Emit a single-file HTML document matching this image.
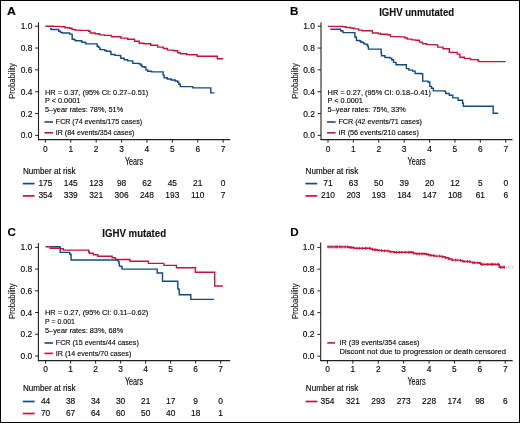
<!DOCTYPE html>
<html><head><meta charset="utf-8"><style>
html,body{margin:0;padding:0;background:#fff;}
svg{display:block;will-change:transform;}
text{font-family:"Liberation Sans", sans-serif;stroke:#231f20;stroke-width:0.15px;}
</style></head><body>
<svg width="520" height="423" viewBox="0 0 520 423" font-family='"Liberation Sans", sans-serif'>
<rect x="0" y="0" width="520" height="423" fill="#fff"/>
<text x="7.10" y="14.90" font-size="11.6" font-weight="bold" textLength="8.9" lengthAdjust="spacingAndGlyphs" fill="#000">A</text>
<line x1="38.50" y1="22.20" x2="38.50" y2="140.10" stroke="#231f20" stroke-width="1.1"/>
<line x1="38.00" y1="139.60" x2="230.20" y2="139.60" stroke="#231f20" stroke-width="1.1"/>
<line x1="35.20" y1="135.40" x2="38.50" y2="135.40" stroke="#231f20" stroke-width="1"/>
<text x="32.30" y="138.35" font-size="8.4" text-anchor="end">0.0</text>
<line x1="35.20" y1="113.56" x2="38.50" y2="113.56" stroke="#231f20" stroke-width="1"/>
<text x="32.30" y="116.51" font-size="8.4" text-anchor="end">0.2</text>
<line x1="35.20" y1="91.72" x2="38.50" y2="91.72" stroke="#231f20" stroke-width="1"/>
<text x="32.30" y="94.67" font-size="8.4" text-anchor="end">0.4</text>
<line x1="35.20" y1="69.88" x2="38.50" y2="69.88" stroke="#231f20" stroke-width="1"/>
<text x="32.30" y="72.83" font-size="8.4" text-anchor="end">0.6</text>
<line x1="35.20" y1="48.04" x2="38.50" y2="48.04" stroke="#231f20" stroke-width="1"/>
<text x="32.30" y="50.99" font-size="8.4" text-anchor="end">0.8</text>
<line x1="35.20" y1="26.20" x2="38.50" y2="26.20" stroke="#231f20" stroke-width="1"/>
<text x="32.30" y="29.15" font-size="8.4" text-anchor="end">1.0</text>
<line x1="45.40" y1="139.60" x2="45.40" y2="142.60" stroke="#231f20" stroke-width="1"/>
<text x="45.40" y="151.60" font-size="8.4" text-anchor="middle">0</text>
<line x1="70.79" y1="139.60" x2="70.79" y2="142.60" stroke="#231f20" stroke-width="1"/>
<text x="70.79" y="151.60" font-size="8.4" text-anchor="middle">1</text>
<line x1="96.18" y1="139.60" x2="96.18" y2="142.60" stroke="#231f20" stroke-width="1"/>
<text x="96.18" y="151.60" font-size="8.4" text-anchor="middle">2</text>
<line x1="121.57" y1="139.60" x2="121.57" y2="142.60" stroke="#231f20" stroke-width="1"/>
<text x="121.57" y="151.60" font-size="8.4" text-anchor="middle">3</text>
<line x1="146.96" y1="139.60" x2="146.96" y2="142.60" stroke="#231f20" stroke-width="1"/>
<text x="146.96" y="151.60" font-size="8.4" text-anchor="middle">4</text>
<line x1="172.35" y1="139.60" x2="172.35" y2="142.60" stroke="#231f20" stroke-width="1"/>
<text x="172.35" y="151.60" font-size="8.4" text-anchor="middle">5</text>
<line x1="197.74" y1="139.60" x2="197.74" y2="142.60" stroke="#231f20" stroke-width="1"/>
<text x="197.74" y="151.60" font-size="8.4" text-anchor="middle">6</text>
<line x1="223.13" y1="139.60" x2="223.13" y2="142.60" stroke="#231f20" stroke-width="1"/>
<text x="223.13" y="151.60" font-size="8.4" text-anchor="middle">7</text>
<text x="134.00" y="165.00" font-size="10" text-anchor="middle" textLength="18.2" lengthAdjust="spacingAndGlyphs">Years</text>
<text x="0" y="0" font-size="9.4" textLength="35.6" lengthAdjust="spacingAndGlyphs" fill="#231f20" transform="translate(14.90,98.80) rotate(-90)">Probability</text>
<text x="290.10" y="14.90" font-size="11.6" font-weight="bold" fill="#000">B</text>
<text x="416.70" y="15.90" font-size="10.5" text-anchor="middle" font-weight="bold" textLength="75" lengthAdjust="spacingAndGlyphs" fill="#111">IGHV unmutated</text>
<line x1="321.00" y1="22.20" x2="321.00" y2="140.10" stroke="#231f20" stroke-width="1.1"/>
<line x1="320.50" y1="139.60" x2="512.50" y2="139.60" stroke="#231f20" stroke-width="1.1"/>
<line x1="317.70" y1="135.40" x2="321.00" y2="135.40" stroke="#231f20" stroke-width="1"/>
<text x="314.80" y="138.35" font-size="8.4" text-anchor="end">0.0</text>
<line x1="317.70" y1="113.56" x2="321.00" y2="113.56" stroke="#231f20" stroke-width="1"/>
<text x="314.80" y="116.51" font-size="8.4" text-anchor="end">0.2</text>
<line x1="317.70" y1="91.72" x2="321.00" y2="91.72" stroke="#231f20" stroke-width="1"/>
<text x="314.80" y="94.67" font-size="8.4" text-anchor="end">0.4</text>
<line x1="317.70" y1="69.88" x2="321.00" y2="69.88" stroke="#231f20" stroke-width="1"/>
<text x="314.80" y="72.83" font-size="8.4" text-anchor="end">0.6</text>
<line x1="317.70" y1="48.04" x2="321.00" y2="48.04" stroke="#231f20" stroke-width="1"/>
<text x="314.80" y="50.99" font-size="8.4" text-anchor="end">0.8</text>
<line x1="317.70" y1="26.20" x2="321.00" y2="26.20" stroke="#231f20" stroke-width="1"/>
<text x="314.80" y="29.15" font-size="8.4" text-anchor="end">1.0</text>
<line x1="328.00" y1="139.60" x2="328.00" y2="142.60" stroke="#231f20" stroke-width="1"/>
<text x="328.00" y="151.60" font-size="8.4" text-anchor="middle">0</text>
<line x1="353.39" y1="139.60" x2="353.39" y2="142.60" stroke="#231f20" stroke-width="1"/>
<text x="353.39" y="151.60" font-size="8.4" text-anchor="middle">1</text>
<line x1="378.78" y1="139.60" x2="378.78" y2="142.60" stroke="#231f20" stroke-width="1"/>
<text x="378.78" y="151.60" font-size="8.4" text-anchor="middle">2</text>
<line x1="404.17" y1="139.60" x2="404.17" y2="142.60" stroke="#231f20" stroke-width="1"/>
<text x="404.17" y="151.60" font-size="8.4" text-anchor="middle">3</text>
<line x1="429.56" y1="139.60" x2="429.56" y2="142.60" stroke="#231f20" stroke-width="1"/>
<text x="429.56" y="151.60" font-size="8.4" text-anchor="middle">4</text>
<line x1="454.95" y1="139.60" x2="454.95" y2="142.60" stroke="#231f20" stroke-width="1"/>
<text x="454.95" y="151.60" font-size="8.4" text-anchor="middle">5</text>
<line x1="480.34" y1="139.60" x2="480.34" y2="142.60" stroke="#231f20" stroke-width="1"/>
<text x="480.34" y="151.60" font-size="8.4" text-anchor="middle">6</text>
<line x1="505.73" y1="139.60" x2="505.73" y2="142.60" stroke="#231f20" stroke-width="1"/>
<text x="505.73" y="151.60" font-size="8.4" text-anchor="middle">7</text>
<text x="416.60" y="165.00" font-size="10" text-anchor="middle" textLength="18.2" lengthAdjust="spacingAndGlyphs">Years</text>
<text x="0" y="0" font-size="9.4" textLength="35.6" lengthAdjust="spacingAndGlyphs" fill="#231f20" transform="translate(297.50,98.80) rotate(-90)">Probability</text>
<text x="7.40" y="236.00" font-size="11.6" font-weight="bold" fill="#000">C</text>
<text x="134.20" y="236.80" font-size="10.5" text-anchor="middle" font-weight="bold" textLength="63.8" lengthAdjust="spacingAndGlyphs" fill="#111">IGHV mutated</text>
<line x1="38.40" y1="243.00" x2="38.40" y2="361.10" stroke="#231f20" stroke-width="1.1"/>
<line x1="37.90" y1="360.60" x2="230.20" y2="360.60" stroke="#231f20" stroke-width="1.1"/>
<line x1="35.10" y1="356.00" x2="38.40" y2="356.00" stroke="#231f20" stroke-width="1"/>
<text x="32.20" y="358.95" font-size="8.4" text-anchor="end">0.0</text>
<line x1="35.10" y1="334.28" x2="38.40" y2="334.28" stroke="#231f20" stroke-width="1"/>
<text x="32.20" y="337.23" font-size="8.4" text-anchor="end">0.2</text>
<line x1="35.10" y1="312.56" x2="38.40" y2="312.56" stroke="#231f20" stroke-width="1"/>
<text x="32.20" y="315.51" font-size="8.4" text-anchor="end">0.4</text>
<line x1="35.10" y1="290.84" x2="38.40" y2="290.84" stroke="#231f20" stroke-width="1"/>
<text x="32.20" y="293.79" font-size="8.4" text-anchor="end">0.6</text>
<line x1="35.10" y1="269.12" x2="38.40" y2="269.12" stroke="#231f20" stroke-width="1"/>
<text x="32.20" y="272.07" font-size="8.4" text-anchor="end">0.8</text>
<line x1="35.10" y1="247.40" x2="38.40" y2="247.40" stroke="#231f20" stroke-width="1"/>
<text x="32.20" y="250.35" font-size="8.4" text-anchor="end">1.0</text>
<line x1="45.60" y1="360.60" x2="45.60" y2="363.60" stroke="#231f20" stroke-width="1"/>
<text x="45.60" y="372.40" font-size="8.4" text-anchor="middle">0</text>
<line x1="70.61" y1="360.60" x2="70.61" y2="363.60" stroke="#231f20" stroke-width="1"/>
<text x="70.61" y="372.40" font-size="8.4" text-anchor="middle">1</text>
<line x1="95.62" y1="360.60" x2="95.62" y2="363.60" stroke="#231f20" stroke-width="1"/>
<text x="95.62" y="372.40" font-size="8.4" text-anchor="middle">2</text>
<line x1="120.63" y1="360.60" x2="120.63" y2="363.60" stroke="#231f20" stroke-width="1"/>
<text x="120.63" y="372.40" font-size="8.4" text-anchor="middle">3</text>
<line x1="145.64" y1="360.60" x2="145.64" y2="363.60" stroke="#231f20" stroke-width="1"/>
<text x="145.64" y="372.40" font-size="8.4" text-anchor="middle">4</text>
<line x1="170.65" y1="360.60" x2="170.65" y2="363.60" stroke="#231f20" stroke-width="1"/>
<text x="170.65" y="372.40" font-size="8.4" text-anchor="middle">5</text>
<line x1="195.66" y1="360.60" x2="195.66" y2="363.60" stroke="#231f20" stroke-width="1"/>
<text x="195.66" y="372.40" font-size="8.4" text-anchor="middle">6</text>
<line x1="220.67" y1="360.60" x2="220.67" y2="363.60" stroke="#231f20" stroke-width="1"/>
<text x="220.67" y="372.40" font-size="8.4" text-anchor="middle">7</text>
<text x="134.00" y="385.10" font-size="10" text-anchor="middle" textLength="18.2" lengthAdjust="spacingAndGlyphs">Years</text>
<text x="0" y="0" font-size="9.4" textLength="35.6" lengthAdjust="spacingAndGlyphs" fill="#231f20" transform="translate(14.90,319.10) rotate(-90)">Probability</text>
<text x="290.30" y="236.00" font-size="11.6" font-weight="bold" fill="#000">D</text>
<line x1="320.70" y1="242.40" x2="320.70" y2="361.10" stroke="#231f20" stroke-width="1.1"/>
<line x1="320.20" y1="360.60" x2="512.60" y2="360.60" stroke="#231f20" stroke-width="1.1"/>
<line x1="317.40" y1="356.20" x2="320.70" y2="356.20" stroke="#231f20" stroke-width="1"/>
<text x="314.50" y="359.15" font-size="8.4" text-anchor="end">0.0</text>
<line x1="317.40" y1="334.44" x2="320.70" y2="334.44" stroke="#231f20" stroke-width="1"/>
<text x="314.50" y="337.39" font-size="8.4" text-anchor="end">0.2</text>
<line x1="317.40" y1="312.68" x2="320.70" y2="312.68" stroke="#231f20" stroke-width="1"/>
<text x="314.50" y="315.63" font-size="8.4" text-anchor="end">0.4</text>
<line x1="317.40" y1="290.92" x2="320.70" y2="290.92" stroke="#231f20" stroke-width="1"/>
<text x="314.50" y="293.87" font-size="8.4" text-anchor="end">0.6</text>
<line x1="317.40" y1="269.16" x2="320.70" y2="269.16" stroke="#231f20" stroke-width="1"/>
<text x="314.50" y="272.11" font-size="8.4" text-anchor="end">0.8</text>
<line x1="317.40" y1="247.40" x2="320.70" y2="247.40" stroke="#231f20" stroke-width="1"/>
<text x="314.50" y="250.35" font-size="8.4" text-anchor="end">1.0</text>
<line x1="327.50" y1="360.60" x2="327.50" y2="363.60" stroke="#231f20" stroke-width="1"/>
<text x="327.50" y="372.40" font-size="8.4" text-anchor="middle">0</text>
<line x1="352.89" y1="360.60" x2="352.89" y2="363.60" stroke="#231f20" stroke-width="1"/>
<text x="352.89" y="372.40" font-size="8.4" text-anchor="middle">1</text>
<line x1="378.28" y1="360.60" x2="378.28" y2="363.60" stroke="#231f20" stroke-width="1"/>
<text x="378.28" y="372.40" font-size="8.4" text-anchor="middle">2</text>
<line x1="403.67" y1="360.60" x2="403.67" y2="363.60" stroke="#231f20" stroke-width="1"/>
<text x="403.67" y="372.40" font-size="8.4" text-anchor="middle">3</text>
<line x1="429.06" y1="360.60" x2="429.06" y2="363.60" stroke="#231f20" stroke-width="1"/>
<text x="429.06" y="372.40" font-size="8.4" text-anchor="middle">4</text>
<line x1="454.45" y1="360.60" x2="454.45" y2="363.60" stroke="#231f20" stroke-width="1"/>
<text x="454.45" y="372.40" font-size="8.4" text-anchor="middle">5</text>
<line x1="479.84" y1="360.60" x2="479.84" y2="363.60" stroke="#231f20" stroke-width="1"/>
<text x="479.84" y="372.40" font-size="8.4" text-anchor="middle">6</text>
<line x1="505.23" y1="360.60" x2="505.23" y2="363.60" stroke="#231f20" stroke-width="1"/>
<text x="505.23" y="372.40" font-size="8.4" text-anchor="middle">7</text>
<text x="416.50" y="385.10" font-size="10" text-anchor="middle" textLength="18.2" lengthAdjust="spacingAndGlyphs">Years</text>
<text x="0" y="0" font-size="9.4" textLength="35.6" lengthAdjust="spacingAndGlyphs" fill="#231f20" transform="translate(297.70,319.10) rotate(-90)">Probability</text>
<text x="45.00" y="94.70" font-size="8" textLength="103.3" lengthAdjust="spacingAndGlyphs">HR = 0.37, (95% CI: 0.27–0.51)</text>
<text x="45.00" y="103.30" font-size="8" textLength="35.3" lengthAdjust="spacingAndGlyphs">P &lt; 0.0001</text>
<text x="45.00" y="112.10" font-size="8" textLength="78.2" lengthAdjust="spacingAndGlyphs">5–year rates: 78%, 51%</text>
<line x1="44.50" y1="122.00" x2="53.00" y2="122.00" stroke="#0f4b87" stroke-width="1.6"/>
<text x="55.80" y="124.30" font-size="8" textLength="86.3" lengthAdjust="spacingAndGlyphs">FCR (74 events/175 cases)</text>
<line x1="44.50" y1="132.80" x2="53.00" y2="132.80" stroke="#c8133a" stroke-width="1.6"/>
<text x="55.80" y="134.90" font-size="8" textLength="78.6" lengthAdjust="spacingAndGlyphs">IR (84 events/354 cases)</text>
<text x="327.60" y="94.70" font-size="8" textLength="103.3" lengthAdjust="spacingAndGlyphs">HR = 0.27, (95% CI: 0.18–0.41)</text>
<text x="327.60" y="103.30" font-size="8" textLength="35.3" lengthAdjust="spacingAndGlyphs">P &lt; 0.0001</text>
<text x="327.60" y="112.10" font-size="8" textLength="78.2" lengthAdjust="spacingAndGlyphs">5–year rates: 75%, 33%</text>
<line x1="327.10" y1="122.00" x2="335.60" y2="122.00" stroke="#0f4b87" stroke-width="1.6"/>
<text x="338.40" y="124.30" font-size="8" textLength="83.5" lengthAdjust="spacingAndGlyphs">FCR (42 events/71 cases)</text>
<line x1="327.10" y1="132.80" x2="335.60" y2="132.80" stroke="#c8133a" stroke-width="1.6"/>
<text x="338.40" y="134.90" font-size="8" textLength="80.5" lengthAdjust="spacingAndGlyphs">IR (56 events/210 cases)</text>
<text x="45.00" y="315.30" font-size="8" textLength="103.3" lengthAdjust="spacingAndGlyphs">HR = 0.27, (95% CI: 0.11–0.62)</text>
<text x="45.00" y="323.90" font-size="8" textLength="30" lengthAdjust="spacingAndGlyphs">P = 0.001</text>
<text x="45.00" y="332.60" font-size="8" textLength="78.2" lengthAdjust="spacingAndGlyphs">5–year rates: 83%, 68%</text>
<line x1="44.50" y1="343.00" x2="53.00" y2="343.00" stroke="#0f4b87" stroke-width="1.6"/>
<text x="55.80" y="345.30" font-size="8" textLength="83" lengthAdjust="spacingAndGlyphs">FCR (15 events/44 cases)</text>
<line x1="44.50" y1="353.40" x2="53.00" y2="353.40" stroke="#c8133a" stroke-width="1.6"/>
<text x="55.80" y="355.60" font-size="8" textLength="75.5" lengthAdjust="spacingAndGlyphs">IR (14 events/70 cases)</text>
<line x1="327.30" y1="342.90" x2="335.00" y2="342.90" stroke="#c8133a" stroke-width="1.6"/>
<text x="339.60" y="345.40" font-size="8" textLength="79.8" lengthAdjust="spacingAndGlyphs">IR (39 events/354 cases)</text>
<text x="339.60" y="354.10" font-size="8" textLength="166.4" lengthAdjust="spacingAndGlyphs">Discont not due to progression or death censored</text>
<text x="23.00" y="173.60" font-size="8.4" textLength="52.6" lengthAdjust="spacingAndGlyphs">Number at risk</text>
<line x1="22.80" y1="183.60" x2="34.60" y2="183.60" stroke="#0f4b87" stroke-width="1.7"/>
<text x="45.40" y="186.00" font-size="8.4" text-anchor="middle">175</text>
<text x="70.79" y="186.00" font-size="8.4" text-anchor="middle">145</text>
<text x="96.18" y="186.00" font-size="8.4" text-anchor="middle">123</text>
<text x="121.57" y="186.00" font-size="8.4" text-anchor="middle">98</text>
<text x="146.96" y="186.00" font-size="8.4" text-anchor="middle">62</text>
<text x="172.35" y="186.00" font-size="8.4" text-anchor="middle">45</text>
<text x="197.74" y="186.00" font-size="8.4" text-anchor="middle">21</text>
<text x="223.13" y="186.00" font-size="8.4" text-anchor="middle">0</text>
<line x1="22.80" y1="195.90" x2="34.60" y2="195.90" stroke="#c8133a" stroke-width="1.7"/>
<text x="45.40" y="198.30" font-size="8.4" text-anchor="middle">354</text>
<text x="70.79" y="198.30" font-size="8.4" text-anchor="middle">339</text>
<text x="96.18" y="198.30" font-size="8.4" text-anchor="middle">321</text>
<text x="121.57" y="198.30" font-size="8.4" text-anchor="middle">306</text>
<text x="146.96" y="198.30" font-size="8.4" text-anchor="middle">248</text>
<text x="172.35" y="198.30" font-size="8.4" text-anchor="middle">193</text>
<text x="197.74" y="198.30" font-size="8.4" text-anchor="middle">110</text>
<text x="223.13" y="198.30" font-size="8.4" text-anchor="middle">7</text>
<text x="305.60" y="173.60" font-size="8.4" textLength="52.6" lengthAdjust="spacingAndGlyphs">Number at risk</text>
<line x1="305.40" y1="183.60" x2="317.20" y2="183.60" stroke="#0f4b87" stroke-width="1.7"/>
<text x="328.00" y="186.00" font-size="8.4" text-anchor="middle">71</text>
<text x="353.39" y="186.00" font-size="8.4" text-anchor="middle">63</text>
<text x="378.78" y="186.00" font-size="8.4" text-anchor="middle">50</text>
<text x="404.17" y="186.00" font-size="8.4" text-anchor="middle">39</text>
<text x="429.56" y="186.00" font-size="8.4" text-anchor="middle">20</text>
<text x="454.95" y="186.00" font-size="8.4" text-anchor="middle">12</text>
<text x="480.34" y="186.00" font-size="8.4" text-anchor="middle">5</text>
<text x="505.73" y="186.00" font-size="8.4" text-anchor="middle">0</text>
<line x1="305.40" y1="195.90" x2="317.20" y2="195.90" stroke="#c8133a" stroke-width="1.7"/>
<text x="328.00" y="198.30" font-size="8.4" text-anchor="middle">210</text>
<text x="353.39" y="198.30" font-size="8.4" text-anchor="middle">203</text>
<text x="378.78" y="198.30" font-size="8.4" text-anchor="middle">193</text>
<text x="404.17" y="198.30" font-size="8.4" text-anchor="middle">184</text>
<text x="429.56" y="198.30" font-size="8.4" text-anchor="middle">147</text>
<text x="454.95" y="198.30" font-size="8.4" text-anchor="middle">108</text>
<text x="480.34" y="198.30" font-size="8.4" text-anchor="middle">61</text>
<text x="505.73" y="198.30" font-size="8.4" text-anchor="middle">6</text>
<text x="23.00" y="391.30" font-size="8.4" textLength="52.6" lengthAdjust="spacingAndGlyphs">Number at risk</text>
<line x1="22.80" y1="401.50" x2="34.60" y2="401.50" stroke="#0f4b87" stroke-width="1.7"/>
<text x="45.60" y="403.90" font-size="8.4" text-anchor="middle">44</text>
<text x="70.61" y="403.90" font-size="8.4" text-anchor="middle">38</text>
<text x="95.62" y="403.90" font-size="8.4" text-anchor="middle">34</text>
<text x="120.63" y="403.90" font-size="8.4" text-anchor="middle">30</text>
<text x="145.64" y="403.90" font-size="8.4" text-anchor="middle">21</text>
<text x="170.65" y="403.90" font-size="8.4" text-anchor="middle">17</text>
<text x="195.66" y="403.90" font-size="8.4" text-anchor="middle">9</text>
<text x="220.67" y="403.90" font-size="8.4" text-anchor="middle">0</text>
<line x1="22.80" y1="413.50" x2="34.60" y2="413.50" stroke="#c8133a" stroke-width="1.7"/>
<text x="45.60" y="415.90" font-size="8.4" text-anchor="middle">70</text>
<text x="70.61" y="415.90" font-size="8.4" text-anchor="middle">67</text>
<text x="95.62" y="415.90" font-size="8.4" text-anchor="middle">64</text>
<text x="120.63" y="415.90" font-size="8.4" text-anchor="middle">60</text>
<text x="145.64" y="415.90" font-size="8.4" text-anchor="middle">50</text>
<text x="170.65" y="415.90" font-size="8.4" text-anchor="middle">40</text>
<text x="195.66" y="415.90" font-size="8.4" text-anchor="middle">18</text>
<text x="220.67" y="415.90" font-size="8.4" text-anchor="middle">1</text>
<text x="305.80" y="391.30" font-size="8.4" textLength="52.6" lengthAdjust="spacingAndGlyphs">Number at risk</text>
<line x1="305.60" y1="401.50" x2="317.40" y2="401.50" stroke="#c8133a" stroke-width="1.7"/>
<text x="327.50" y="403.90" font-size="8.4" text-anchor="middle">354</text>
<text x="352.89" y="403.90" font-size="8.4" text-anchor="middle">321</text>
<text x="378.28" y="403.90" font-size="8.4" text-anchor="middle">293</text>
<text x="403.67" y="403.90" font-size="8.4" text-anchor="middle">273</text>
<text x="429.06" y="403.90" font-size="8.4" text-anchor="middle">228</text>
<text x="454.45" y="403.90" font-size="8.4" text-anchor="middle">174</text>
<text x="479.84" y="403.90" font-size="8.4" text-anchor="middle">98</text>
<text x="505.23" y="403.90" font-size="8.4" text-anchor="middle">6</text>
<path d="M45.40,26.30 L53.50,26.30 L53.50,26.40 L59.30,26.40 L59.30,26.60 L62.20,26.60 L62.20,26.80 L65.10,26.80 L65.10,27.80 L69.70,27.80 L69.70,28.30 L72.00,28.30 L72.00,29.50 L75.40,29.50 L75.40,30.10 L80.10,30.10 L80.10,30.40 L85.80,30.40 L88.70,30.40 L88.70,31.20 L90.40,31.20 L90.40,33.00 L95.10,33.00 L95.10,33.80 L99.70,33.80 L99.70,34.90 L104.60,34.90 L104.60,35.40 L111.50,35.40 L111.50,36.70 L120.80,36.70 L120.80,38.10 L127.70,38.10 L127.70,39.20 L134.60,39.20 L134.60,41.30 L139.20,41.30 L139.20,43.30 L143.80,43.30 L143.80,43.80 L150.70,43.80 L150.70,45.20 L157.70,45.20 L157.70,47.10 L163.40,47.10 L163.40,48.50 L167.30,48.50 L167.30,50.10 L173.80,50.10 L173.80,50.70 L177.70,50.70 L177.70,52.70 L180.30,52.70 L180.30,53.70 L186.80,53.70 L186.80,54.60 L189.40,54.60 L189.40,54.80 L195.90,54.80 L197.20,54.80 L197.20,56.30 L216.70,56.30 L217.30,56.30 L217.30,58.70 L223.20,58.70" fill="none" stroke="#c8133a" stroke-width="1.4" stroke-linejoin="miter"/>
<path d="M50.10,28.70 L51.20,28.70 L51.20,29.50 L57.60,29.50 L58.70,29.50 L58.70,31.20 L60.50,31.20 L60.50,32.40 L62.20,32.40 L62.20,33.00 L68.50,33.00 L69.70,33.00 L69.70,34.10 L72.00,34.10 L72.00,34.90 L72.20,34.90 L72.20,39.30 L74.30,39.30 L74.30,39.90 L75.40,39.90 L75.40,40.70 L81.20,40.70 L81.20,41.00 L81.80,41.00 L81.80,42.20 L85.30,42.20 L85.30,42.80 L85.80,42.80 L85.80,43.90 L96.20,43.90 L97.10,43.90 L97.10,46.20 L98.50,46.20 L98.50,47.40 L99.70,47.40 L99.70,49.10 L100.60,49.10 L100.60,49.60 L104.60,49.60 L104.60,50.50 L106.30,50.50 L106.30,51.30 L110.40,51.30 L110.40,51.70 L111.00,51.70 L111.00,54.50 L115.00,54.50 L115.00,55.40 L120.20,55.40 L120.20,56.00 L120.80,56.00 L120.80,58.30 L124.20,58.30 L124.20,59.80 L127.70,59.80 L127.70,60.90 L132.30,60.90 L132.30,61.40 L132.90,61.40 L132.90,63.40 L139.20,63.40 L139.20,64.00 L140.90,64.00 L140.90,65.20 L142.00,65.20 L142.00,66.70 L144.60,66.70 L144.60,67.30 L145.90,67.30 L145.90,69.90 L147.80,69.90 L147.80,71.20 L151.70,71.20 L151.70,71.90 L162.10,71.90 L163.10,71.90 L163.10,75.10 L164.10,75.10 L164.10,77.70 L167.30,77.70 L167.30,79.00 L171.20,79.00 L171.20,80.00 L175.10,80.00 L175.10,81.00 L177.70,81.00 L177.70,82.30 L178.80,82.30 L178.80,84.20 L180.30,84.20 L180.30,86.60 L192.30,86.60 L192.90,86.60 L192.90,87.90 L210.50,87.90 L210.80,87.90 L210.80,92.90 L214.40,92.90" fill="none" stroke="#0f4b87" stroke-width="1.4" stroke-linejoin="miter"/>
<path d="M328.00,26.40 L341.30,26.40 L343.00,26.40 L343.00,26.80 L345.90,26.80 L345.90,27.50 L350.50,27.50 L350.50,28.00 L354.00,28.00 L354.00,28.90 L358.60,28.90 L358.60,30.10 L362.10,30.10 L362.10,30.70 L370.10,30.70 L372.40,30.70 L372.40,33.00 L378.20,33.00 L378.20,33.50 L380.50,33.50 L380.50,34.30 L387.40,34.30 L387.40,34.80 L390.50,34.80 L390.50,36.60 L400.90,36.60 L400.90,36.90 L404.60,36.90 L404.60,37.80 L407.10,37.80 L407.10,39.10 L412.00,39.10 L412.00,39.90 L415.70,39.90 L415.70,40.30 L419.40,40.30 L419.40,42.10 L422.40,42.10 L422.40,43.70 L426.70,43.70 L426.70,44.60 L435.40,44.60 L435.40,44.90 L437.80,44.90 L437.80,47.10 L443.00,47.10 L443.00,48.80 L449.30,48.80 L449.30,52.40 L457.20,52.40 L457.20,54.10 L459.90,54.10 L459.90,57.20 L464.30,57.20 L464.30,58.40 L470.50,58.40 L470.50,59.60 L477.90,59.60 L477.90,60.30 L478.60,60.30 L478.60,61.60 L505.60,61.60" fill="none" stroke="#c8133a" stroke-width="1.4" stroke-linejoin="miter"/>
<path d="M330.30,29.20 L340.10,29.20 L340.70,29.20 L340.70,30.70 L342.50,30.70 L342.50,31.20 L343.00,31.20 L343.00,32.60 L354.60,32.60 L354.90,32.60 L354.90,37.00 L356.30,37.00 L356.30,38.10 L356.50,38.10 L356.50,40.50 L359.80,40.50 L359.80,41.00 L360.90,41.00 L360.90,42.20 L363.20,42.20 L363.20,42.80 L363.80,42.80 L363.80,43.90 L366.10,43.90 L366.10,44.50 L367.60,44.50 L367.60,46.20 L368.40,46.20 L368.40,49.10 L380.50,49.10 L381.10,49.10 L381.10,52.60 L381.50,52.60 L381.50,55.70 L384.90,55.70 L384.90,57.50 L389.80,57.50 L389.80,58.10 L391.70,58.10 L391.70,59.70 L393.50,59.70 L393.50,62.40 L396.00,62.40 L396.00,64.70 L405.20,64.70 L406.40,64.70 L406.40,68.60 L408.90,68.60 L408.90,70.10 L412.60,70.10 L412.60,71.10 L415.10,71.10 L415.10,73.50 L421.20,73.50 L421.20,73.80 L422.70,73.80 L422.70,81.10 L428.00,81.10 L428.00,82.00 L429.80,82.00 L429.80,86.40 L431.50,86.40 L431.50,88.20 L433.30,88.20 L433.30,90.90 L444.80,90.90 L444.80,91.40 L445.70,91.40 L445.70,93.50 L449.30,93.50 L449.30,95.30 L452.80,95.30 L452.80,97.90 L458.10,97.90 L458.10,100.20 L462.60,100.20 L462.60,103.30 L463.40,103.30 L463.40,106.30 L492.80,106.30 L493.20,106.30 L493.20,113.20 L498.10,113.20" fill="none" stroke="#0f4b87" stroke-width="1.4" stroke-linejoin="miter"/>
<path d="M45.50,246.80 L49.50,246.80 L50.10,246.80 L50.10,248.30 L59.30,248.30 L60.50,248.30 L60.50,248.70 L62.80,248.70 L63.30,248.70 L63.30,250.10 L88.10,250.10 L88.70,250.10 L88.70,251.80 L89.30,251.80 L89.30,253.30 L92.70,253.30 L93.30,253.30 L93.30,254.70 L97.40,254.70 L97.40,254.90 L97.90,254.90 L97.90,256.30 L111.50,256.30 L112.10,256.30 L112.10,257.80 L115.00,257.80 L115.00,258.10 L115.60,258.10 L115.60,259.50 L129.40,259.50 L130.00,259.50 L130.00,261.30 L147.90,261.30 L148.40,261.30 L148.40,263.40 L163.70,263.40 L163.90,263.40 L163.90,265.40 L175.90,265.40 L176.40,265.40 L176.40,267.70 L195.10,267.70 L195.40,267.70 L195.40,272.30 L214.50,272.30 L214.70,272.30 L214.70,286.00 L222.80,286.00" fill="none" stroke="#c8133a" stroke-width="1.4" stroke-linejoin="miter"/>
<path d="M51.00,246.80 L59.30,246.80 L59.90,246.80 L59.90,247.80 L60.20,247.80 L60.20,252.40 L69.10,252.40 L69.70,252.40 L69.70,254.10 L70.80,254.10 L70.80,254.70 L71.10,254.70 L71.10,260.00 L117.30,260.00 L118.20,260.00 L118.20,261.50 L119.00,261.50 L119.00,263.60 L119.40,263.60 L119.40,266.10 L121.30,266.10 L121.30,266.70 L122.10,266.70 L122.10,269.10 L156.70,269.10 L157.20,269.10 L157.20,273.00 L162.20,273.00 L162.50,273.00 L162.50,281.30 L177.40,281.30 L177.80,281.30 L177.80,288.90 L178.80,288.90 L178.80,289.60 L179.20,289.60 L179.20,294.70 L190.40,294.70 L190.80,294.70 L190.80,299.40 L213.90,299.40" fill="none" stroke="#0f4b87" stroke-width="1.4" stroke-linejoin="miter"/>
<path d="M327.20,246.90 L348.50,246.90 L348.50,247.20 L350.80,247.20 L350.80,247.60 L354.30,247.60 L354.30,248.30 L368.10,248.30 L370.40,248.30 L370.40,249.00 L372.70,249.00 L372.70,249.80 L377.40,249.80 L377.40,250.40 L382.00,250.40 L382.00,250.80 L386.90,250.80 L386.90,250.90 L389.20,250.90 L389.20,251.80 L393.80,251.80 L393.80,252.30 L410.00,252.30 L413.40,252.30 L413.40,253.20 L415.80,253.20 L415.80,253.80 L426.10,253.80 L426.10,254.20 L428.40,254.20 L428.40,255.00 L430.70,255.00 L430.70,255.50 L434.20,255.50 L434.20,256.10 L441.50,256.10 L441.50,256.70 L444.90,256.70 L444.90,257.80 L448.40,257.80 L448.40,259.00 L451.80,259.00 L451.80,260.10 L459.90,260.10 L459.90,260.40 L462.20,260.40 L462.20,261.50 L470.30,261.50 L470.30,262.10 L472.60,262.10 L472.60,262.70 L479.50,262.70 L479.50,263.30 L480.70,263.30 L480.70,264.40 L498.80,264.40 L499.20,264.40 L499.20,267.20 L505.00,267.20" fill="none" stroke="#c8133a" stroke-width="1.4" stroke-linejoin="miter"/>
<line x1="328.00" y1="245.40" x2="328.00" y2="248.40" stroke="#c8133a" stroke-width="0.8"/>
<line x1="329.21" y1="245.40" x2="329.21" y2="248.40" stroke="#c8133a" stroke-width="0.8"/>
<line x1="330.82" y1="245.40" x2="330.82" y2="248.40" stroke="#c8133a" stroke-width="0.8"/>
<line x1="332.20" y1="245.40" x2="332.20" y2="248.40" stroke="#c8133a" stroke-width="0.8"/>
<line x1="333.88" y1="245.40" x2="333.88" y2="248.40" stroke="#c8133a" stroke-width="0.8"/>
<line x1="335.60" y1="245.40" x2="335.60" y2="248.40" stroke="#c8133a" stroke-width="0.8"/>
<line x1="336.58" y1="245.40" x2="336.58" y2="248.40" stroke="#c8133a" stroke-width="0.8"/>
<line x1="337.50" y1="245.40" x2="337.50" y2="248.40" stroke="#c8133a" stroke-width="0.8"/>
<line x1="339.49" y1="245.40" x2="339.49" y2="248.40" stroke="#c8133a" stroke-width="0.8"/>
<line x1="340.72" y1="245.40" x2="340.72" y2="248.40" stroke="#c8133a" stroke-width="0.8"/>
<line x1="341.93" y1="245.40" x2="341.93" y2="248.40" stroke="#c8133a" stroke-width="0.8"/>
<line x1="344.12" y1="245.40" x2="344.12" y2="248.40" stroke="#c8133a" stroke-width="0.8"/>
<line x1="345.63" y1="245.40" x2="345.63" y2="248.40" stroke="#c8133a" stroke-width="0.8"/>
<line x1="347.62" y1="245.40" x2="347.62" y2="248.40" stroke="#c8133a" stroke-width="0.8"/>
<line x1="349.14" y1="245.70" x2="349.14" y2="248.70" stroke="#c8133a" stroke-width="0.8"/>
<line x1="350.87" y1="246.10" x2="350.87" y2="249.10" stroke="#c8133a" stroke-width="0.8"/>
<line x1="351.97" y1="246.10" x2="351.97" y2="249.10" stroke="#c8133a" stroke-width="0.8"/>
<line x1="353.69" y1="246.10" x2="353.69" y2="249.10" stroke="#c8133a" stroke-width="0.8"/>
<line x1="356.99" y1="246.80" x2="356.99" y2="249.80" stroke="#c8133a" stroke-width="0.8"/>
<line x1="359.49" y1="246.80" x2="359.49" y2="249.80" stroke="#c8133a" stroke-width="0.8"/>
<line x1="362.50" y1="246.80" x2="362.50" y2="249.80" stroke="#c8133a" stroke-width="0.8"/>
<line x1="365.34" y1="246.80" x2="365.34" y2="249.80" stroke="#c8133a" stroke-width="0.8"/>
<line x1="366.79" y1="246.80" x2="366.79" y2="249.80" stroke="#c8133a" stroke-width="0.8"/>
<line x1="369.83" y1="246.80" x2="369.83" y2="249.80" stroke="#c8133a" stroke-width="0.8"/>
<line x1="372.49" y1="247.50" x2="372.49" y2="250.50" stroke="#c8133a" stroke-width="0.8"/>
<line x1="374.49" y1="248.30" x2="374.49" y2="251.30" stroke="#c8133a" stroke-width="0.8"/>
<line x1="375.86" y1="248.30" x2="375.86" y2="251.30" stroke="#c8133a" stroke-width="0.8"/>
<line x1="379.15" y1="248.90" x2="379.15" y2="251.90" stroke="#c8133a" stroke-width="0.8"/>
<line x1="381.54" y1="248.90" x2="381.54" y2="251.90" stroke="#c8133a" stroke-width="0.8"/>
<line x1="384.49" y1="249.30" x2="384.49" y2="252.30" stroke="#c8133a" stroke-width="0.8"/>
<line x1="387.81" y1="249.40" x2="387.81" y2="252.40" stroke="#c8133a" stroke-width="0.8"/>
<line x1="390.75" y1="250.30" x2="390.75" y2="253.30" stroke="#c8133a" stroke-width="0.8"/>
<line x1="394.17" y1="250.80" x2="394.17" y2="253.80" stroke="#c8133a" stroke-width="0.8"/>
<line x1="396.38" y1="250.80" x2="396.38" y2="253.80" stroke="#c8133a" stroke-width="0.8"/>
<line x1="399.52" y1="250.80" x2="399.52" y2="253.80" stroke="#c8133a" stroke-width="0.8"/>
<line x1="401.84" y1="250.80" x2="401.84" y2="253.80" stroke="#c8133a" stroke-width="0.8"/>
<line x1="405.30" y1="250.80" x2="405.30" y2="253.80" stroke="#c8133a" stroke-width="0.8"/>
<line x1="408.62" y1="250.80" x2="408.62" y2="253.80" stroke="#c8133a" stroke-width="0.8"/>
<line x1="410.14" y1="250.80" x2="410.14" y2="253.80" stroke="#c8133a" stroke-width="0.8"/>
<line x1="411.75" y1="250.80" x2="411.75" y2="253.80" stroke="#c8133a" stroke-width="0.8"/>
<line x1="413.55" y1="251.70" x2="413.55" y2="254.70" stroke="#c8133a" stroke-width="0.8"/>
<line x1="417.07" y1="252.30" x2="417.07" y2="255.30" stroke="#c8133a" stroke-width="0.8"/>
<line x1="419.38" y1="252.30" x2="419.38" y2="255.30" stroke="#c8133a" stroke-width="0.8"/>
<line x1="422.12" y1="252.30" x2="422.12" y2="255.30" stroke="#c8133a" stroke-width="0.8"/>
<line x1="424.11" y1="252.30" x2="424.11" y2="255.30" stroke="#c8133a" stroke-width="0.8"/>
<line x1="426.58" y1="252.70" x2="426.58" y2="255.70" stroke="#c8133a" stroke-width="0.8"/>
<line x1="428.76" y1="253.50" x2="428.76" y2="256.50" stroke="#c8133a" stroke-width="0.8"/>
<line x1="430.87" y1="254.00" x2="430.87" y2="257.00" stroke="#c8133a" stroke-width="0.8"/>
<line x1="433.52" y1="254.00" x2="433.52" y2="257.00" stroke="#c8133a" stroke-width="0.8"/>
<line x1="436.16" y1="254.60" x2="436.16" y2="257.60" stroke="#c8133a" stroke-width="0.8"/>
<line x1="439.54" y1="254.60" x2="439.54" y2="257.60" stroke="#c8133a" stroke-width="0.8"/>
<line x1="442.41" y1="255.20" x2="442.41" y2="258.20" stroke="#c8133a" stroke-width="0.8"/>
<line x1="445.85" y1="256.30" x2="445.85" y2="259.30" stroke="#c8133a" stroke-width="0.8"/>
<line x1="449.12" y1="257.50" x2="449.12" y2="260.50" stroke="#c8133a" stroke-width="0.8"/>
<line x1="452.70" y1="258.60" x2="452.70" y2="261.60" stroke="#c8133a" stroke-width="0.8"/>
<line x1="455.54" y1="258.60" x2="455.54" y2="261.60" stroke="#c8133a" stroke-width="0.8"/>
<line x1="457.21" y1="258.60" x2="457.21" y2="261.60" stroke="#c8133a" stroke-width="0.8"/>
<line x1="460.49" y1="258.90" x2="460.49" y2="261.90" stroke="#c8133a" stroke-width="0.8"/>
<line x1="464.01" y1="260.00" x2="464.01" y2="263.00" stroke="#c8133a" stroke-width="0.8"/>
<line x1="467.39" y1="260.00" x2="467.39" y2="263.00" stroke="#c8133a" stroke-width="0.8"/>
<line x1="470.00" y1="260.00" x2="470.00" y2="263.00" stroke="#c8133a" stroke-width="0.8"/>
<line x1="472.94" y1="261.20" x2="472.94" y2="264.20" stroke="#c8133a" stroke-width="0.8"/>
<line x1="474.73" y1="261.20" x2="474.73" y2="264.20" stroke="#c8133a" stroke-width="0.8"/>
<line x1="477.94" y1="261.20" x2="477.94" y2="264.20" stroke="#c8133a" stroke-width="0.8"/>
<line x1="480.56" y1="261.80" x2="480.56" y2="264.80" stroke="#c8133a" stroke-width="0.8"/>
<line x1="481.83" y1="262.90" x2="481.83" y2="265.90" stroke="#c8133a" stroke-width="0.8"/>
<line x1="482.81" y1="262.90" x2="482.81" y2="265.90" stroke="#c8133a" stroke-width="0.8"/>
<line x1="484.82" y1="262.90" x2="484.82" y2="265.90" stroke="#c8133a" stroke-width="0.8"/>
<line x1="487.01" y1="262.90" x2="487.01" y2="265.90" stroke="#c8133a" stroke-width="0.8"/>
<line x1="488.03" y1="262.90" x2="488.03" y2="265.90" stroke="#c8133a" stroke-width="0.8"/>
<line x1="489.97" y1="262.90" x2="489.97" y2="265.90" stroke="#c8133a" stroke-width="0.8"/>
<line x1="491.40" y1="262.90" x2="491.40" y2="265.90" stroke="#c8133a" stroke-width="0.8"/>
<line x1="492.50" y1="262.90" x2="492.50" y2="265.90" stroke="#c8133a" stroke-width="0.8"/>
<line x1="493.78" y1="262.90" x2="493.78" y2="265.90" stroke="#c8133a" stroke-width="0.8"/>
<line x1="495.68" y1="262.90" x2="495.68" y2="265.90" stroke="#c8133a" stroke-width="0.8"/>
<line x1="497.71" y1="262.90" x2="497.71" y2="265.90" stroke="#c8133a" stroke-width="0.8"/>
<line x1="498.67" y1="262.90" x2="498.67" y2="265.90" stroke="#c8133a" stroke-width="0.8"/>
<line x1="500.37" y1="265.70" x2="500.37" y2="268.70" stroke="#c8133a" stroke-width="0.8"/>
<line x1="501.33" y1="265.70" x2="501.33" y2="268.70" stroke="#c8133a" stroke-width="0.8"/>
<line x1="503.16" y1="265.70" x2="503.16" y2="268.70" stroke="#c8133a" stroke-width="0.8"/>
<line x1="504.49" y1="265.70" x2="504.49" y2="268.70" stroke="#c8133a" stroke-width="0.8"/>
<line x1="506.30" y1="265.7" x2="506.30" y2="268.7" stroke="#eeb8c4" stroke-width="0.9"/>
<line x1="508.30" y1="265.7" x2="508.30" y2="268.7" stroke="#eeb8c4" stroke-width="0.9"/>
<line x1="510.00" y1="265.7" x2="510.00" y2="268.7" stroke="#eeb8c4" stroke-width="0.9"/>
<line x1="512.80" y1="265.7" x2="512.80" y2="268.7" stroke="#eeb8c4" stroke-width="0.9"/>
<rect x="0.5" y="0.5" width="519" height="422" fill="none" stroke="#000" stroke-width="1"/>
</svg>
</body></html>
